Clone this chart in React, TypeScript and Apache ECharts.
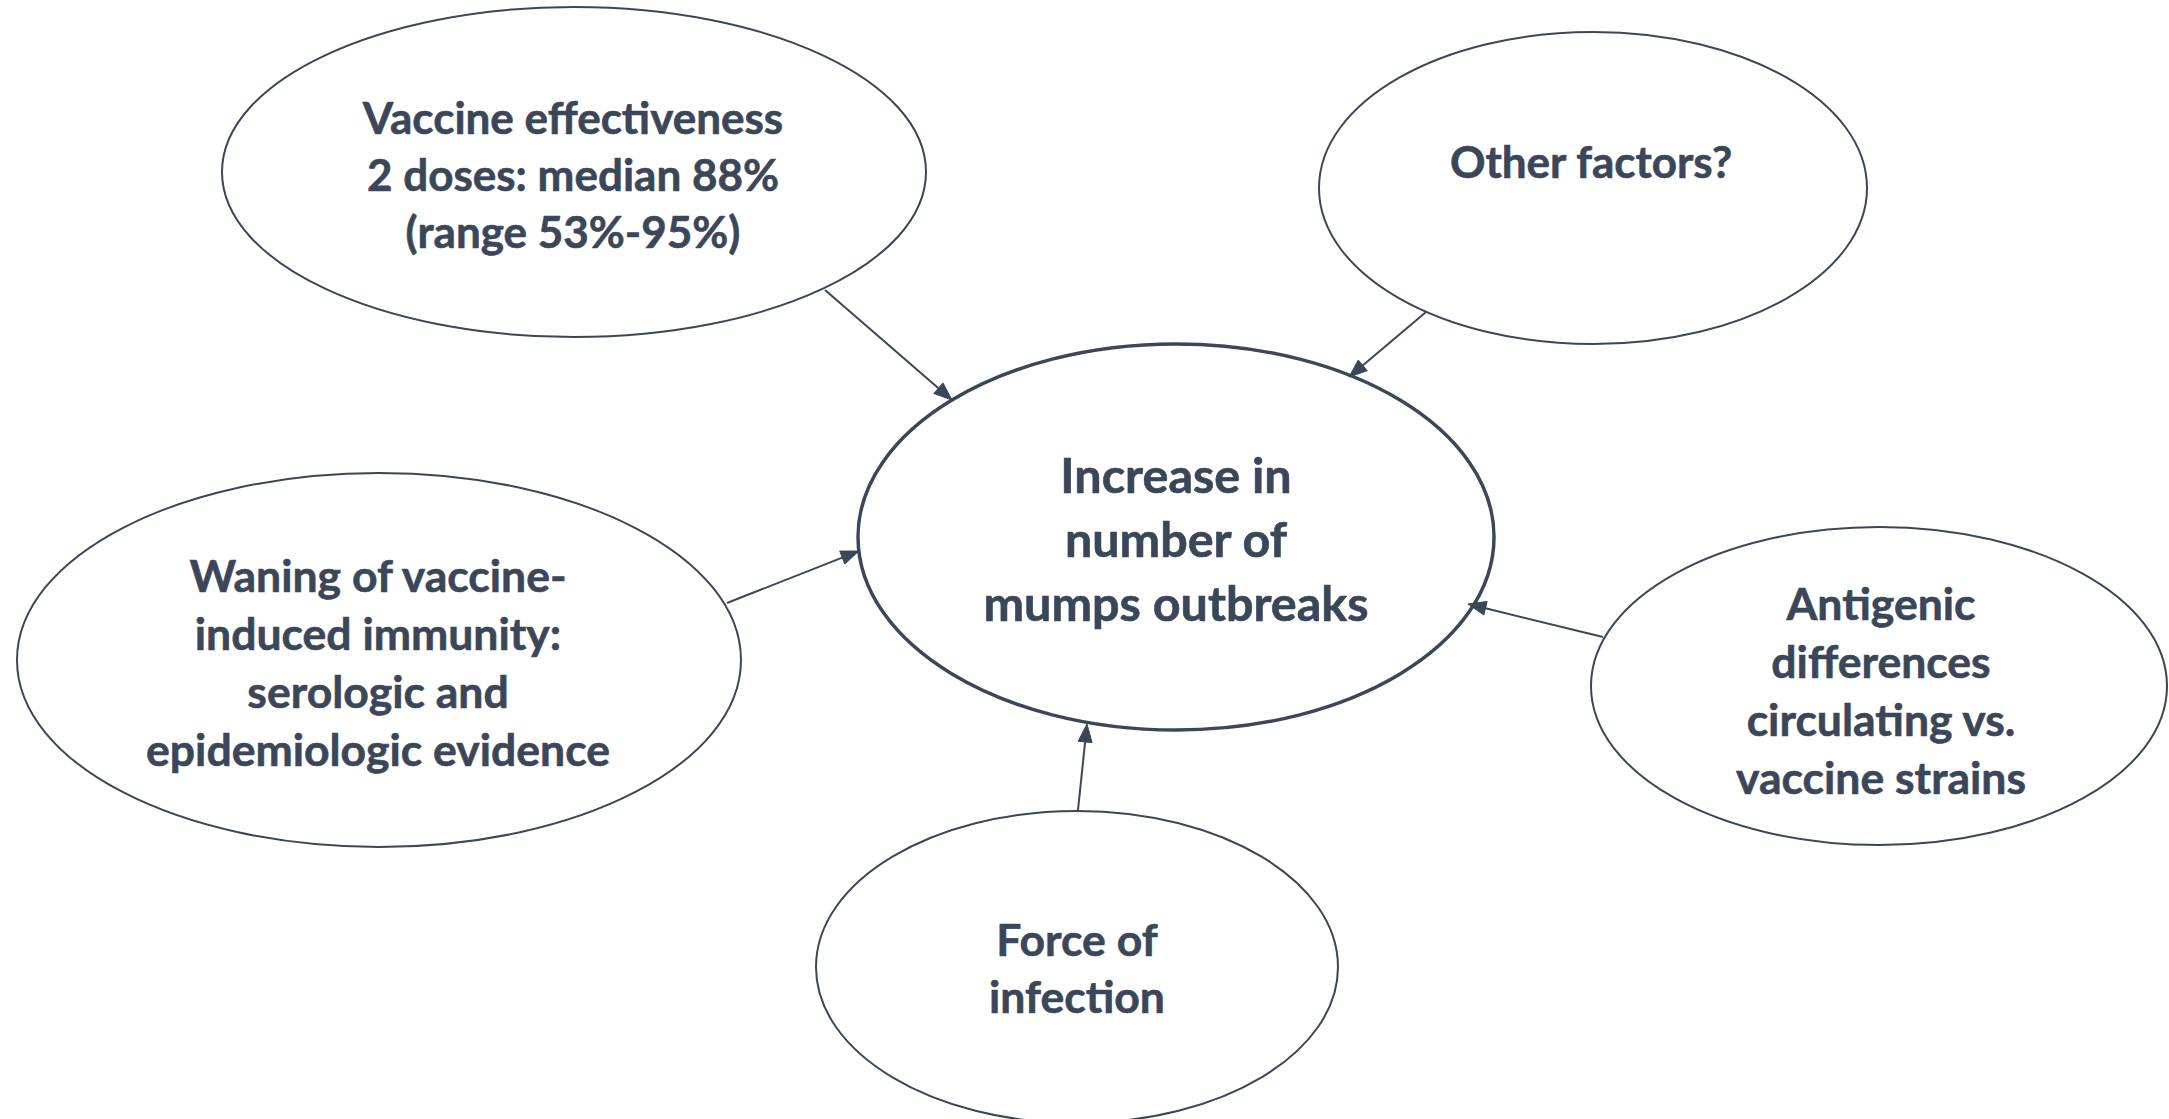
import React, { useEffect, useRef } from "react";
import * as echarts from "echarts";

// Diagram content
const nodeLabels: string[] = [
  "Vaccine effectiveness\n2 doses: median 88%\n(range 53%-95%)",
  "Other factors?",
  "Increase in\nnumber of\nmumps outbreaks",
  "Waning of vaccine-\ninduced immunity:\nserologic and\nepidemiologic evidence",
  "Antigenic\ndifferences\ncirculating vs.\nvaccine strains",
  "Force of\ninfection",
];

// Layout (pixels): ellipse centre x, centre y, radius x, radius y
const ellipseCx: number[] = [574, 1593, 1176, 379, 1879, 1077];
const ellipseCy: number[] = [172, 188, 537, 660, 686, 967];
const ellipseRx: number[] = [352, 274, 318, 362, 288, 261];
const ellipseRy: number[] = [165, 156, 193, 187, 159, 156];
const textX: number[] = [573, 1591, 1176, 378, 1881, 1077];
const textY: number[] = [174, 161, 538, 661, 689, 967];
const textSize: number[] = [44, 44, 48.5, 44.5, 44.5, 44.5];
const textLineH: number[] = [57, 57, 64, 58, 58, 57];
const strokeW: number[] = [2, 2, 3.5, 2, 2, 2];

// Arrows: from (x1,y1) to tip (x2,y2)
const arrowX1: number[] = [825, 1426, 727, 1603, 1078];
const arrowY1: number[] = [290, 312, 603, 637, 810];
const arrowX2: number[] = [952, 1349, 859, 1468, 1087];
const arrowY2: number[] = [400, 377, 551, 604, 724];

const COLOR = "#3b4758";

export default function App() {
  const ref = useRef<HTMLDivElement>(null);
  useEffect(() => {
    if (!ref.current) return;
    const chart = echarts.init(ref.current, null, { renderer: "svg" });
    const elements: any[] = [];
    nodeLabels.forEach((label, i) => {
      elements.push({
        type: "ellipse",
        shape: { cx: ellipseCx[i], cy: ellipseCy[i], rx: ellipseRx[i], ry: ellipseRy[i] },
        style: { fill: "#ffffff", stroke: COLOR, lineWidth: strokeW[i] },
        z: 1,
      });
      elements.push({
        type: "text",
        x: textX[i],
        y: textY[i],
        z: 3,
        style: {
          text: label,
          fill: COLOR,
          stroke: COLOR,
          lineWidth: 0.6,
          font: `bold ${textSize[i]}px Lato`,
          fontFamily: "Lato",
          fontWeight: "bold",
          fontSize: textSize[i],
          lineHeight: textLineH[i],
          align: "center",
          verticalAlign: "middle",
        },
      });
    });
    arrowX1.forEach((x1, i) => {
      const y1 = arrowY1[i];
      const x2 = arrowX2[i];
      const y2 = arrowY2[i];
      const dx = x2 - x1;
      const dy = y2 - y1;
      const len = Math.sqrt(dx * dx + dy * dy);
      const ux = dx / len;
      const uy = dy / len;
      const headL = 18;
      const headW = 7;
      const bx = x2 - ux * headL;
      const by = y2 - uy * headL;
      elements.push({
        type: "line",
        shape: { x1, y1, x2: bx + ux * 2, y2: by + uy * 2 },
        style: { stroke: COLOR, lineWidth: 2 },
        z: 2,
      });
      elements.push({
        type: "polygon",
        shape: {
          points: [
            [x2, y2],
            [bx - uy * headW, by + ux * headW],
            [bx + uy * headW, by - ux * headW],
          ],
        },
        style: { fill: COLOR, stroke: COLOR, lineWidth: 1 },
        z: 2,
      });
    });
    chart.setOption({
      animation: false,
      backgroundColor: "#ffffff",
      graphic: { elements },
    });
    return () => chart.dispose();
  }, []);
  return (
    <div
      ref={ref}
      style={{ position: "fixed", left: 0, top: 0, width: 2169, height: 1119, background: "#fff" }}
    />
  );
}
